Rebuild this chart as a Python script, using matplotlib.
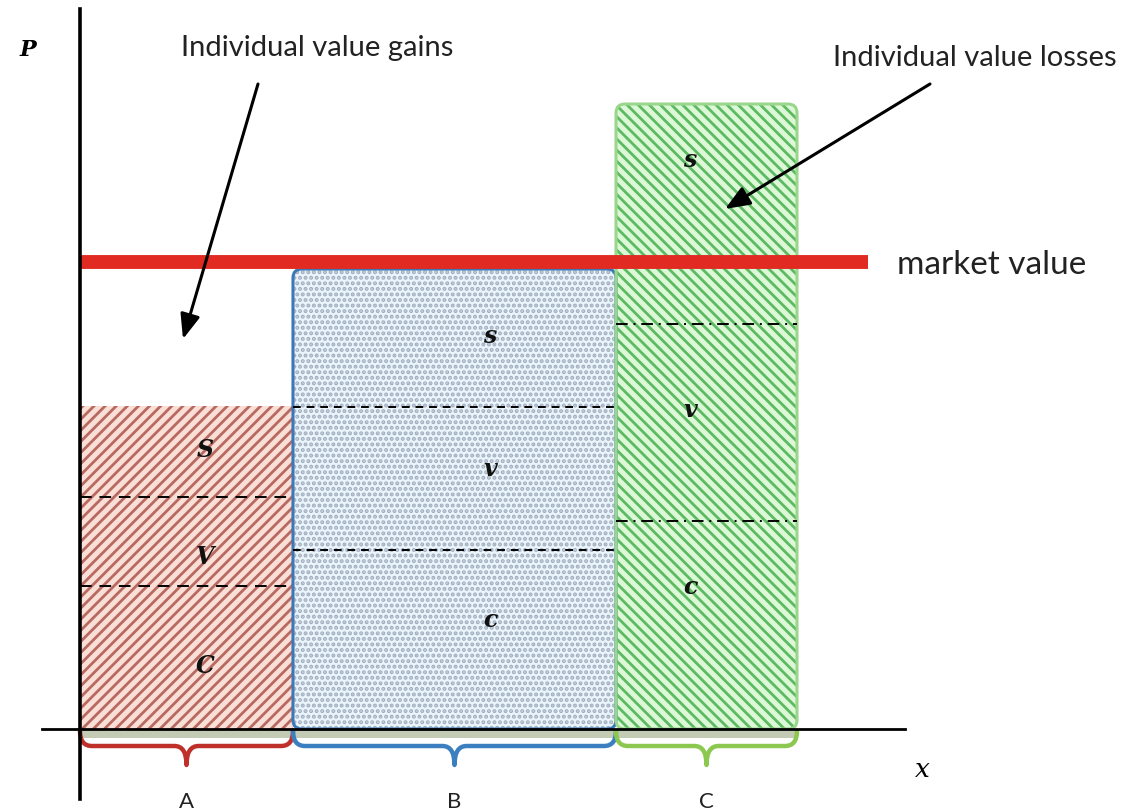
import matplotlib
matplotlib.use("Agg")
import matplotlib.pyplot as plt
from matplotlib.patches import Rectangle, FancyBboxPatch, PathPatch
from matplotlib.path import Path
import numpy as np

# ---- data ----
categories = ["A", "B", "C"]
widths = [213, 323, 181]
c_heights = [143, 179, 208]
v_heights = [89, 143, 197]
s_heights = [91, 138, 220]
market_value = 467
part_labels = [["C", "V", "S"], ["c", "v", "s"], ["c", "v", "s"]]

plt.rcParams["hatch.linewidth"] = 2.0

fig = plt.figure(figsize=(11.24, 8.12), dpi=100)
ax = fig.add_axes([0, 0, 1, 1])
ax.set_xlim(-80, 1044)
ax.set_ylim(-82, 730)
ax.axis("off")

lefts = np.concatenate([[0], np.cumsum(widths)[:-1]])
fills = ["#fadfd6", "#eaf4fd", "#dcf8d6"]
hatch_cols = ["#b86a62", "#a2aebc", "#5cba62"]
hatches = ["///", "...", "\\\\\\"]
borders = [None, "#3a78b8", "#9ad68c"]
brace_cols = ["#c0302a", "#3c7fc0", "#8cc850"]
sep_styles = [(0, (6, 4)), (0, (4, 3)), (0, (6, 3, 1, 3))]
label_off = [[-8, -15, 2], [20, 10, 3], [39, 13, 55]]
label_x = [125, 197, 74]

def brace(x0, x1, col):
    top, mid, tip, r = -2, -17, -36, 12
    xm = (x0 + x1) / 2
    verts = [(x0, top), (x0, mid), (x0 + r, mid),
             (xm - r, mid), (xm, mid), (xm, tip),
             (xm, mid), (xm + r, mid),
             (x1 - r, mid), (x1, mid), (x1, top)]
    codes = [Path.MOVETO, Path.CURVE3, Path.CURVE3,
             Path.LINETO, Path.CURVE3, Path.CURVE3,
             Path.CURVE3, Path.CURVE3,
             Path.LINETO, Path.CURVE3, Path.CURVE3]
    ax.add_patch(PathPatch(Path(verts, codes), fc="none", ec=col, lw=3.2,
                           capstyle="round", joinstyle="round", zorder=4))

for i in range(3):
    x0, w = lefts[i], widths[i]
    total = c_heights[i] + v_heights[i] + s_heights[i]
    if i == 0:
        body = Rectangle((x0, 0), w, total, fc=fills[i], ec=hatch_cols[i],
                         lw=0, hatch=hatches[i], zorder=1)
    else:
        body = FancyBboxPatch((x0, 0), w, total,
                              boxstyle="round,pad=0,rounding_size=9",
                              fc=fills[i], ec=hatch_cols[i], lw=0,
                              hatch=hatches[i], zorder=1)
    ax.add_patch(body)
    ax.add_patch(Rectangle((x0, -9), w, 9, fc="#c4cbb4", ec="none", zorder=1))
    if borders[i]:
        ax.add_patch(FancyBboxPatch((x0, 0), w, total,
                                    boxstyle="round,pad=0,rounding_size=9",
                                    fc="none", ec=borders[i], lw=2.2, zorder=3))
    y1 = c_heights[i]
    y2 = c_heights[i] + v_heights[i]
    for yy in (y1, y2):
        ax.plot([x0, x0 + w], [yy, yy], color="black", lw=1.4,
                linestyle=sep_styles[i], zorder=3)
    mids = [c_heights[i] / 2, y1 + v_heights[i] / 2, y2 + s_heights[i] / 2]
    for lab, ym, dy in zip(part_labels[i], mids, label_off[i]):
        ax.text(x0 + label_x[i], ym + dy, lab, family="DejaVu Serif",
                style="italic", weight="bold", fontsize=17, ha="center",
                va="center", color="#111111", zorder=5)
    brace(x0, x0 + w, brace_cols[i])
    ax.text(x0 + w / 2, -72, categories[i], fontsize=16, family="Lato",
            ha="center", va="center", color="#222222")

# market value line
ax.plot([0, 788], [market_value, market_value], color="#e02a22", lw=10,
        solid_capstyle="butt", zorder=4)
ax.text(817, market_value - 2, "market value", fontsize=24, family="Lato",
        ha="left", va="center", color="#222222")

# axes
ax.plot([0, 0], [-70, 720], color="black", lw=2.6, zorder=6)
ax.plot([-38, 825], [0, 0], color="black", lw=2.0, zorder=6)
ax.text(-52, 680, "P", family="DejaVu Serif", style="italic", weight="bold",
        fontsize=16, ha="center", va="center")
ax.text(842, -40, "x", family="DejaVu Serif", style="italic",
        fontsize=19, ha="center", va="center")

# annotations
arrow_style = dict(arrowstyle="-|>,head_length=1.5,head_width=0.6",
                   color="black", lw=2.2, shrinkA=0, shrinkB=0)
ax.text(237, 682, "Individual value gains", fontsize=21, family="Lato",
        ha="center", va="center", color="#222222")
ax.annotate("", xy=(103, 390), xytext=(178, 645), arrowprops=arrow_style,
            zorder=7)
ax.text(895, 672, "Individual value losses", fontsize=21, family="Lato",
        ha="center", va="center", color="#222222")
ax.annotate("", xy=(645, 520), xytext=(850, 645), arrowprops=arrow_style,
            zorder=7)

fig.savefig("out.png", dpi=100)
